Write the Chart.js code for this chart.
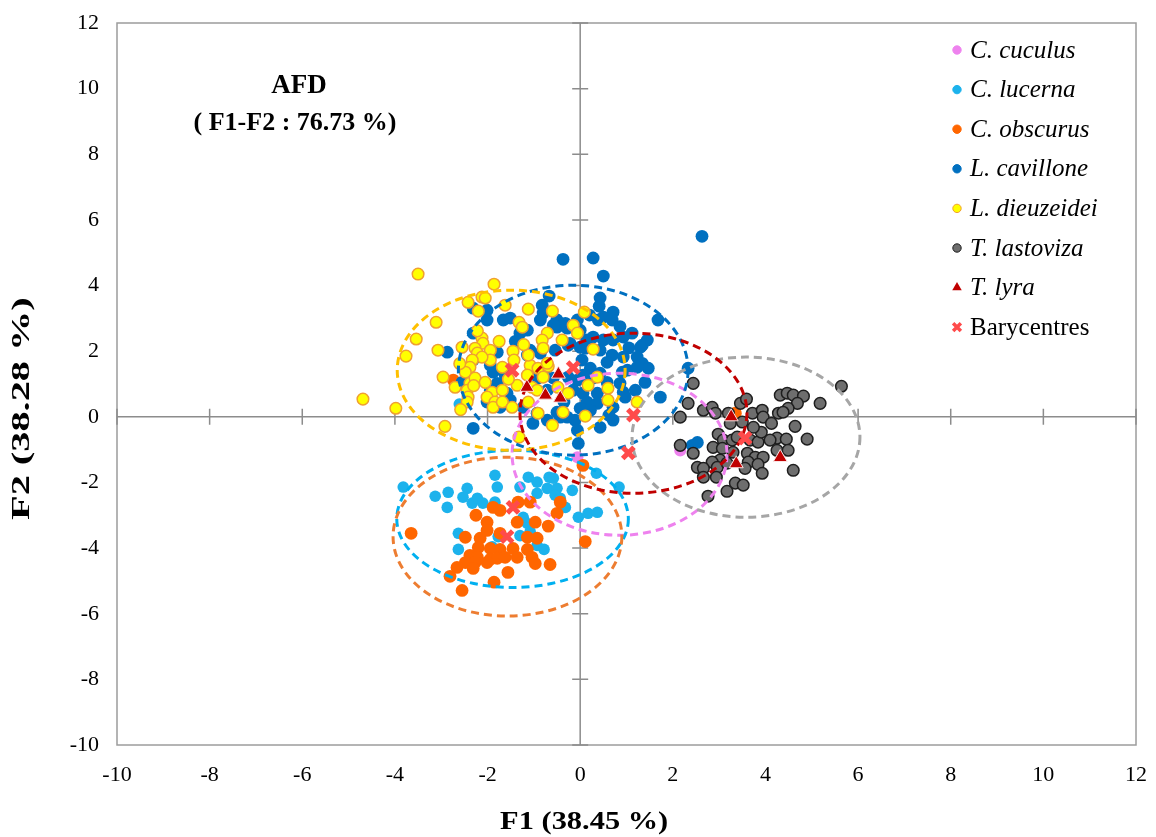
<!DOCTYPE html>
<html>
<head>
<meta charset="utf-8">
<script src="https://cdn.jsdelivr.net/npm/chart.js@4.4.0/dist/chart.umd.min.js"></script>
<style>
  html, body { margin: 0; padding: 0; background: #fff; }
</style>
</head>
<body>
<canvas id="chart_Afd" width="1156" height="837"></canvas>
<script>
// axis ticks
var xTicks = [-10, -8, -6, -4, -2, 0, 2, 4, 6, 8, 10, 12];
var yTicks = [-10, -8, -6, -4, -2, 0, 2, 4, 6, 8, 10, 12];

var speciesNames = ["C. cuculus", "C. lucerna", "C. obscurus", "L. cavillone", "L. dieuzeidei", "T. lastoviza", "T. lyra"];

// individuals (F1, F2)
var cuculusPts = [[-0.06,-1.23],[2.16,-1.03],[0.37,0.72],[0.22,0.20],[2.87,-0.93],[3.07,-0.96],[2.66,-1.57],[3.30,-1.08]];

var lucernaPts = [[-3.82,-2.14],[-3.13,-2.42],[-2.85,-2.30],[-2.87,-2.76],[-2.44,-2.18],[-2.53,-2.45],[-2.33,-2.63],
  [-2.22,-2.48],[-2.10,-2.63],[-1.84,-1.78],[-1.79,-2.14],[-1.84,-2.60],[-1.30,-2.14],[-1.12,-1.84],[-0.93,-1.99],
  [-0.93,-2.33],[-0.67,-1.84],[-0.58,-1.87],[-0.71,-2.18],[-0.50,-2.18],[-0.54,-2.39],[-0.43,-2.48],[-0.32,-2.76],
  [-0.17,-2.24],[0.35,-1.72],[0.84,-2.14],[-0.04,-3.06],[0.17,-2.94],[0.37,-2.91],[-2.63,-3.55],[-2.63,-4.04],
  [-1.90,-3.96],[-1.77,-3.65],[-1.30,-3.62],[-1.14,-3.25],[-1.08,-3.50],[-0.93,-3.92],[-0.78,-4.04],[-2.61,0.39],[-1.23,-3.06]];

var obscurusPts = [[-3.65,-3.55],[-2.25,-3.00],[-2.01,-3.21],[-1.88,-2.76],[-1.73,-2.85],[-1.34,-2.60],[-1.08,-2.60],
  [-0.43,-2.60],[-0.50,-2.94],[-1.36,-3.21],[-0.97,-3.21],[-0.69,-3.33],[-2.48,-3.67],[-2.16,-3.70],[-2.01,-3.46],
  [-1.73,-3.55],[-1.14,-3.67],[-0.93,-3.70],[-2.20,-3.98],[-1.94,-4.01],[-1.73,-4.04],[-1.45,-4.01],[-1.14,-4.04],
  [-2.38,-4.22],[-2.22,-4.28],[-1.94,-4.34],[-1.79,-4.31],[-1.62,-4.28],[-1.36,-4.28],[-1.04,-4.28],[-2.48,-4.44],
  [-2.27,-4.44],[-2.01,-4.44],[-0.97,-4.47],[-0.65,-4.50],[-2.66,-4.59],[-2.31,-4.62],[-2.81,-4.86],[-1.56,-4.74],
  [-1.86,-5.04],[-2.55,-5.29],[0.11,-3.80],[0.06,-1.48],[-2.74,1.12],[3.35,0.11]];

var cavillonePts = [[-0.37,4.80],[0.28,4.84],[0.50,4.29],[2.63,5.50],[-0.67,3.68],[0.43,3.62],[0.41,3.37],[0.71,3.19],
  [0.50,3.04],[0.69,2.95],[1.68,2.95],[-2.01,3.25],[-2.01,2.95],[-1.66,2.95],[-1.51,3.01],[-0.82,3.40],[-0.80,3.16],
  [-0.86,2.95],[-0.50,2.95],[-0.50,2.73],[-0.28,2.70],[-0.06,2.95],[0.00,2.64],[-0.32,2.85],[0.39,2.95],[-1.30,2.55],
  [-1.14,2.64],[-2.31,2.55],[-2.31,3.31],[-2.87,1.97],[0.28,2.43],[0.15,2.34],[0.50,2.34],[0.71,2.34],[0.93,2.43],
  [1.12,2.55],[1.45,2.34],[1.34,2.18],[1.30,2.12],[0.11,2.09],[0.43,2.03],[0.69,1.88],[0.93,1.82],[1.23,1.82],
  [1.34,1.63],[1.47,1.48],[2.33,1.48],[-0.22,2.24],[0.00,2.12],[0.58,1.66],[1.02,1.42],[1.23,1.51],[0.04,1.73],
  [0.22,1.48],[0.43,1.33],[0.91,1.36],[0.86,1.02],[0.58,1.05],[0.28,1.18],[0.06,1.27],[-0.06,1.12],[-0.26,1.21],
  [-0.15,0.81],[0.06,0.72],[0.37,0.72],[0.15,0.45],[0.37,0.41],[0.71,0.29],[0.97,0.60],[1.73,0.60],[0.93,0.75],
  [1.19,0.81],[0.00,0.26],[0.22,0.20],[-0.11,-0.10],[0.43,-0.32],[-0.28,-0.01],[-0.06,-0.41],[0.71,-0.10],
  [-0.54,2.03],[-0.86,1.94],[-1.08,2.03],[-0.71,1.51],[-0.93,1.42],[-1.88,1.36],[-1.79,1.02],[-1.58,0.72],
  [-2.01,0.45],[-1.73,0.29],[-1.23,0.29],[-0.93,0.11],[-0.71,-0.10],[-0.43,-0.01],[-1.02,-0.20],[-2.31,-0.35],
  [-1.94,0.81],[-2.31,1.73],[-1.79,1.97],[-1.94,1.57],[-1.62,1.27],[-1.51,0.51],[-1.14,1.88],[-0.91,1.18],
  [-0.58,1.18],[-0.71,0.81],[-0.50,0.14],[-0.58,2.79],[-0.26,2.18],[-0.04,-0.81],[2.53,-0.78],[2.42,-0.87],
  [0.86,2.75],[1.05,2.10],[0.20,3.10],[-1.40,2.30],[-2.55,1.05],[0.62,0.05],[1.40,1.05],[-0.35,0.45]];

var dieuzeideiPts = [[-3.50,4.35],[-1.86,4.04],[-2.12,3.65],[-2.05,3.62],[-2.42,3.49],[-2.20,3.22],[-3.11,2.88],
  [-1.12,3.28],[-0.60,3.22],[0.09,3.19],[-1.32,2.88],[-1.25,2.73],[-3.54,2.37],[-2.12,2.40],[-2.10,2.24],[-3.07,2.03],
  [-3.76,1.85],[-2.27,2.09],[-2.22,1.94],[-1.94,2.03],[-1.94,1.73],[-2.12,1.82],[-2.33,1.73],[-2.38,1.51],[-2.48,1.36],
  [-2.96,1.21],[-2.70,0.90],[-2.38,1.02],[-2.27,1.18],[-2.44,0.81],[-2.42,0.60],[-2.44,0.45],[-2.05,1.05],[-1.90,0.75],
  [-1.68,0.81],[-2.01,0.60],[-1.84,0.45],[-1.88,0.29],[-1.68,0.45],[-1.45,2.00],[-1.43,1.73],[-1.68,1.51],[-1.08,1.57],
  [-0.91,1.48],[-0.69,1.54],[-1.14,1.27],[-0.80,1.21],[-1.36,0.96],[-1.04,0.90],[-0.93,0.81],[-0.48,0.90],[-0.26,0.72],
  [-1.12,0.45],[-1.47,0.29],[-0.91,0.11],[-0.60,-0.26],[-0.37,0.14],[0.11,0.02],[0.17,0.96],[0.37,1.21],[-0.39,2.34],
  [-0.71,2.55],[-0.82,2.34],[-0.80,2.09],[-0.15,2.79],[-0.06,2.55],[-2.92,-0.29],[-4.69,0.54],[-3.98,0.26],[-1.32,-0.62],
  [0.28,2.06],[0.60,0.87],[0.60,0.51],[1.23,0.45],[-0.71,1.63],[-1.12,1.88],
  [-2.60,1.62],[-2.22,2.62],[-1.75,2.30],[-2.55,2.12],[-1.62,3.40],[-2.58,0.22],[-1.22,2.20],[-2.30,0.95],[-1.55,1.15]];

var lastovizaPts = [[2.44,1.02],[2.33,0.41],[2.66,0.20],[2.85,0.29],[2.92,0.11],[2.16,-0.01],[3.20,0.11],[3.46,0.41],
  [3.59,0.54],[3.50,-0.16],[3.72,0.11],[3.93,0.20],[3.95,-0.01],[4.13,-0.20],[4.28,0.11],[4.32,0.66],[4.47,0.72],
  [4.60,0.66],[4.82,0.63],[4.69,0.41],[4.49,0.26],[4.38,0.14],[5.18,0.41],[5.64,0.93],[4.64,-0.29],[4.90,-0.68],
  [2.98,-0.53],[3.09,-0.71],[3.28,-0.71],[2.87,-0.93],[3.07,-0.96],[3.30,-1.08],[3.67,-0.71],[3.84,-0.77],[3.91,-0.47],
  [4.25,-0.65],[4.45,-0.68],[4.25,-1.02],[4.49,-1.02],[3.61,-1.11],[3.78,-1.23],[3.95,-1.23],[3.63,-1.38],[3.84,-1.45],
  [3.93,-1.72],[3.56,-1.57],[3.02,-1.32],[2.85,-1.38],[2.53,-1.54],[2.66,-1.57],[2.96,-1.54],[2.66,-1.84],[2.94,-1.84],
  [3.17,-1.41],[4.60,-1.63],[3.35,-2.02],[3.52,-2.08],[3.17,-2.27],[2.76,-2.42],[2.16,-0.87],[2.44,-1.11],[3.24,-0.20],
  [3.74,-0.32],[3.39,-0.62],[4.10,-0.71]];

var lyraPts = [[-0.47,1.30],[-1.15,0.90],[-0.75,0.66],[-0.43,0.57],[3.26,0.00],[3.37,-1.43],[4.32,-1.24]];

// barycentres, same order as speciesNames
var baryX = [1.04, -1.45, -1.58, -0.15, -1.47, 3.56, 1.15];
var baryY = [-1.10, -2.76, -3.65, 1.50, 1.42, -0.65, 0.05];

// confidence ellipses, same order as speciesNames
var ellCx = [0.85, -1.46, -1.57, -0.15, -1.49, 3.58, 1.15];
var ellCy = [-1.14, -3.11, -3.65, 1.42, 1.42, -0.62, 0.11];
var ellRx = [2.32, 2.50, 2.47, 2.48, 2.46, 2.46, 2.45];
var ellRy = [2.47, 2.09, 2.42, 2.59, 2.44, 2.44, 2.44];
var ellColors = ["#EE82EE", "#00B0F0", "#ED7D31", "#0070C0", "#FFC000", "#A6A6A6", "#C00000"];

var serif = '"Liberation Serif", "Times New Roman", serif';

function toXY(arr) {
  return arr.map(function (p) { return { x: p[0], y: p[1] }; });
}
var baryPts = baryX.map(function (v, i) { return { x: v, y: baryY[i] }; });

var datasets = [
  { label: speciesNames[0], data: toXY(cuculusPts), order: 7, pointStyle: 'circle', pointRadius: 6, backgroundColor: '#EE82EE', borderColor: '#EE82EE', borderWidth: 0 },
  { label: speciesNames[1], data: toXY(lucernaPts), order: 6, pointStyle: 'circle', pointRadius: 5.8, backgroundColor: '#1CB2EC', borderColor: '#1CB2EC', borderWidth: 0 },
  { label: speciesNames[2], data: toXY(obscurusPts), order: 5, pointStyle: 'circle', pointRadius: 6.4, backgroundColor: '#FF6600', borderColor: '#FF6600', borderWidth: 0 },
  { label: speciesNames[3], data: toXY(cavillonePts), order: 4, pointStyle: 'circle', pointRadius: 6.4, backgroundColor: '#0070C0', borderColor: '#0070C0', borderWidth: 0 },
  { label: speciesNames[4], data: toXY(dieuzeideiPts), order: 3, pointStyle: 'circle', pointRadius: 5.8, backgroundColor: '#FFFF00', borderColor: '#F0A030', borderWidth: 1.5 },
  { label: speciesNames[5], data: toXY(lastovizaPts), order: 2, pointStyle: 'circle', pointRadius: 5.8, backgroundColor: '#6E6E6E', borderColor: '#1E1E1E', borderWidth: 1.5 },
  { label: speciesNames[6], data: toXY(lyraPts), order: 1, pointStyle: 'triangle', pointRadius: 8, backgroundColor: '#C00000', borderColor: '#FBE3E3', borderWidth: 1 },
  { label: "Barycentres", data: baryPts, order: 0, pointStyle: 'crossRot', pointRadius: 8, backgroundColor: '#FF4B4B', borderColor: '#FF4B4B', borderWidth: 5 }
];

function drawEllipses(chart) {
  var ctx = chart.ctx, xs = chart.scales.x, ys = chart.scales.y, a = chart.chartArea;
  ctx.save();
  ctx.beginPath();
  ctx.rect(a.left, a.top, a.right - a.left, a.bottom - a.top);
  ctx.clip();
  ctx.lineWidth = 3;
  ctx.setLineDash([8, 5]);
  for (var i = 0; i < ellCx.length; i++) {
    var cx = xs.getPixelForValue(ellCx[i]);
    var cy = ys.getPixelForValue(ellCy[i]);
    var rx = xs.getPixelForValue(ellCx[i] + ellRx[i]) - cx;
    var ry = cy - ys.getPixelForValue(ellCy[i] + ellRy[i]);
    ctx.strokeStyle = ellColors[i];
    ctx.beginPath();
    ctx.ellipse(cx, cy, rx, ry, 0, 0, Math.PI * 2);
    ctx.stroke();
  }
  ctx.restore();
}

var afdDecor = {
  id: 'afdDecor',
  beforeDatasetsDraw: function (chart) {
    var ctx = chart.ctx, a = chart.chartArea, xs = chart.scales.x, ys = chart.scales.y;
    ctx.save();
    ctx.strokeStyle = '#9C9C9C';
    ctx.lineWidth = 1.5;
    ctx.strokeRect(a.left, a.top, a.right - a.left, a.bottom - a.top);
    var x0 = xs.getPixelForValue(0), y0 = ys.getPixelForValue(0);
    ctx.strokeStyle = '#8C8C8C';
    ctx.beginPath();
    ctx.moveTo(x0, a.top); ctx.lineTo(x0, a.bottom);
    ctx.moveTo(a.left, y0); ctx.lineTo(a.right, y0);
    xTicks.forEach(function (v) {
      var px = xs.getPixelForValue(v);
      ctx.moveTo(px, y0 - 8); ctx.lineTo(px, y0 + 8);
    });
    yTicks.forEach(function (v) {
      var py = ys.getPixelForValue(v);
      ctx.moveTo(x0 - 8, py); ctx.lineTo(x0 + 8, py);
    });
    ctx.stroke();
    ctx.restore();
  },
  afterDatasetDraw: function (chart, args) {
    if (args.index === 5) drawEllipses(chart);
  },
  afterDraw: function (chart) {
    var ctx = chart.ctx, a = chart.chartArea, xs = chart.scales.x, ys = chart.scales.y;
    ctx.save();
    ctx.fillStyle = '#000';
    ctx.textAlign = 'center';
    ctx.textBaseline = 'middle';

    // title inside the plot
    ctx.font = 'bold 27px ' + serif;
    ctx.fillText('AFD', a.left + 182, 86);
    ctx.font = 'bold 26px ' + serif;
    ctx.fillText('( F1-F2 : 76.73 %)', a.left + 178, 123);

    // axis titles
    ctx.font = 'bold 26px ' + serif;
    ctx.save();
    ctx.translate(xs.getPixelForValue(0) + 4, 822);
    ctx.scale(1.17, 1);
    ctx.fillText('F1 (38.45 %)', 0, 0);
    ctx.restore();
    ctx.save();
    ctx.translate(22, ys.getPixelForValue(0.25));
    ctx.rotate(-Math.PI / 2);
    ctx.scale(1.55, 1);
    ctx.fillText('F2 (38.28 %)', 0, 0);
    ctx.restore();

    // legend
    var lx = a.right - 179, ly = a.top + 27;
    chart.data.datasets.forEach(function (ds, i) {
      var yy = ly + i * 39.6;
      ctx.fillStyle = ds.backgroundColor;
      ctx.strokeStyle = ds.borderColor;
      var st = { pointStyle: ds.pointStyle, rotation: 0, radius: 4.2, borderWidth: 1 };
      if (ds.pointStyle === 'triangle') { st.radius = 5.5; st.borderWidth = 0; }
      if (ds.pointStyle === 'crossRot') { st.radius = 5.5; st.borderWidth = 3.5; }
      ctx.lineWidth = st.borderWidth;
      Chart.helpers.drawPoint(ctx, st, lx, yy);
      ctx.fillStyle = '#000';
      ctx.textAlign = 'left';
      ctx.font = (i < 7 ? 'italic ' : '') + '25px ' + serif;
      ctx.fillText(ds.label, lx + 13, yy + 1);
    });
    ctx.restore();
  }
};

new Chart(document.getElementById("chart_Afd"), {
  type: 'scatter',
  data: { datasets: datasets },
  options: {
    responsive: false,
    animation: false,
    layout: { padding: { top: 23, right: 20, left: 0, bottom: 0 } },
    plugins: {
      legend: { display: false },
      tooltip: { enabled: false }
    },
    scales: {
      x: {
        type: 'linear', min: -10, max: 12,
        afterBuildTicks: function (s) { s.ticks = xTicks.map(function (v) { return { value: v }; }); },
        afterFit: function (s) { s.height = 92; s.paddingLeft = 0; s.paddingRight = 0; },
        grid: { display: false, drawTicks: false },
        border: { display: false },
        ticks: { color: '#000', padding: 17, font: { family: serif, size: 22 } }
      },
      y: {
        type: 'linear', min: -10, max: 12,
        afterBuildTicks: function (s) { s.ticks = yTicks.map(function (v) { return { value: v }; }); },
        afterFit: function (s) { s.width = 117; s.paddingTop = 0; s.paddingBottom = 0; },
        grid: { display: false, drawTicks: false },
        border: { display: false },
        ticks: { color: '#000', padding: 18, font: { family: serif, size: 22 } }
      }
    }
  },
  plugins: [afdDecor]
});
</script>
</body>
</html>
